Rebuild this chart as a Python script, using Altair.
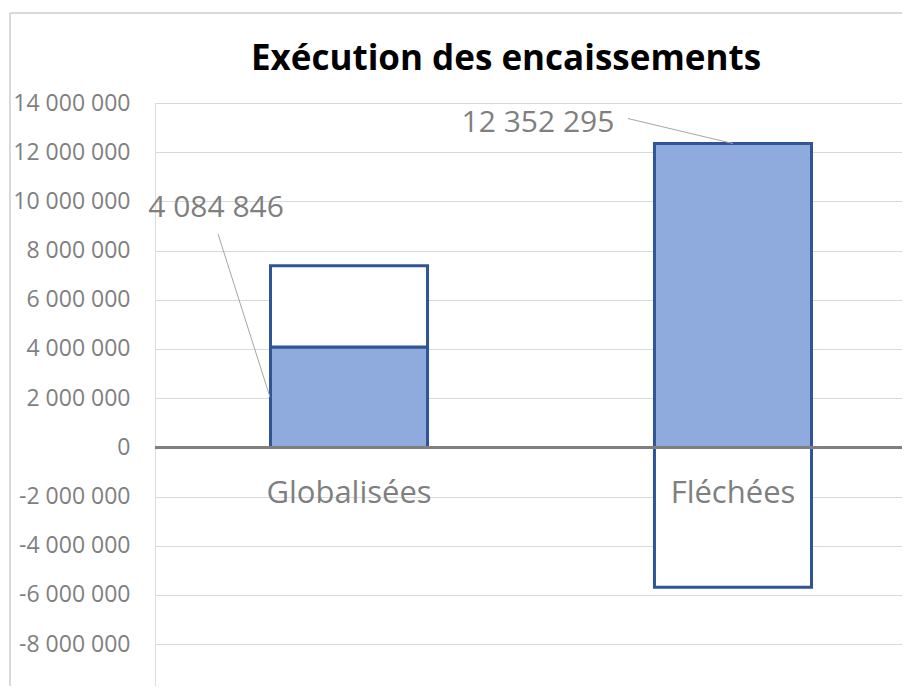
import altair as alt
import pandas as pd

categories = ["Globalisées", "Fléchées"]
encaisse = [4084846, 12352295]
ecart = [3300000, -5690000]
y_ticks = [-8000000, -6000000, -4000000, -2000000, 0, 2000000, 4000000,
           6000000, 8000000, 10000000, 12000000, 14000000]
title_text = ["Exécution des encaissements"]

rows = []
for c, e, r in zip(categories, encaisse, ecart):
    rows.append({"cat": c, "seg": "encaisse", "y0": 0, "y1": e})
    base = e if r > 0 else 0
    rows.append({"cat": c, "seg": "reste", "y0": base, "y1": base + r})
bars_df = pd.DataFrame(rows)

lab_df = pd.DataFrame({
    "cat": categories,
    "value": encaisse,
    "half": [v / 2 for v in encaisse],
    "label": [f"{v:,}".replace(",", " ") for v in encaisse],
})
zero_df = pd.DataFrame({"zero": [0]})
title_df = pd.DataFrame({"t": title_text})

FONT = "Open Sans"
GRAY = "#7f7f7f"
BLUE_FILL = "#8faadc"
BLUE_EDGE = "#2f5597"

xscale = alt.Scale(domain=categories, range=[0, 772], paddingInner=0.591, paddingOuter=0.3008)
yscale = alt.Scale(domain=[-9700000, 14000000], nice=False, zero=False)

xenc = alt.X("cat:N", scale=xscale, axis=None, sort=categories, bandPosition=0.5)
yaxis = alt.Axis(values=y_ticks, grid=True, gridColor="#d9d9d9", gridWidth=1.2,
                 domain=False, ticks=False, labelPadding=25, labelFont=FONT,
                 labelFontSize=23, labelColor=GRAY,
                 labelExpr="replace(replace(format(datum.value, ',d'), regexp(',', 'g'), ' '), '\u2212', '-')",
                 title=None)

base = alt.Chart(bars_df)

bars = base.mark_bar(stroke=BLUE_EDGE, strokeWidth=3).encode(
    x=xenc,
    y=alt.Y("y0:Q", scale=yscale, axis=yaxis),
    y2="y1:Q",
    color=alt.Color("seg:N", scale=alt.Scale(domain=["encaisse", "reste"],
                                             range=[BLUE_FILL, "#ffffff"]), legend=None),
)

zero_line = alt.Chart(zero_df).mark_rule(color=GRAY, strokeWidth=3).encode(
    y=alt.Y("zero:Q", scale=yscale),
    x=alt.value(0), x2=alt.value(760),
)

cat_labels = alt.Chart(lab_df).mark_text(font=FONT, fontSize=31, color=GRAY,
                                         baseline="middle", align="center", dy=47).encode(
    x=xenc, y=alt.Y("zero:Q", scale=yscale), text="cat:N",
).transform_calculate(zero="0")

lab_g = alt.Chart(lab_df).transform_filter(alt.datum.cat == "Globalisées")
lab_f = alt.Chart(lab_df).transform_filter(alt.datum.cat == "Fléchées")

leader_g = lab_g.mark_rule(color="#a6a6a6", strokeWidth=1, xOffset=-79, x2Offset=-131,
                           y2Offset=-113).encode(
    x=xenc, x2=alt.X2("cat:N", bandPosition=0.5),
    y=alt.Y("half:Q", scale=yscale), y2="value:Q",
)
leader_f = lab_f.mark_rule(color="#a6a6a6", strokeWidth=1, x2Offset=-105,
                           y2Offset=-25).encode(
    x=xenc, x2=alt.X2("cat:N", bandPosition=0.5),
    y=alt.Y("value:Q", scale=yscale), y2="value:Q",
)
text_g = lab_g.mark_text(font=FONT, fontSize=30, color=GRAY, align="center",
                         baseline="middle", dx=-133, dy=-139).encode(
    x=xenc, y=alt.Y("value:Q", scale=yscale), text="label:N")
text_f = lab_f.mark_text(font=FONT, fontSize=30, color=GRAY, align="center",
                         baseline="middle", dx=-195, dy=-21).encode(
    x=xenc, y=alt.Y("value:Q", scale=yscale), text="label:N")

title_mark = alt.Chart(title_df).mark_text(font="Open Sans", fontSize=35, fontWeight="bold",
                                           color="#000000", align="center",
                                           baseline="middle").encode(
    x=alt.value(351), y=alt.value(-44), text="t:N")

frame_left = alt.Chart(zero_df).mark_rule(color="#d9d9d9", strokeWidth=2).encode(
    x=alt.value(-145), y=alt.value(-90), y2=alt.value(600))
frame_top = alt.Chart(zero_df).mark_rule(color="#d9d9d9", strokeWidth=2).encode(
    x=alt.value(-145), x2=alt.value(760), y=alt.value(-90))

chart = alt.layer(
    frame_left, frame_top, bars, zero_line, cat_labels,
    leader_g, leader_f, text_g, text_f, title_mark,
).properties(
    width=747, height=583,
    autosize=alt.AutoSizeParams(type="none"),
    padding={"left": 147, "top": 95, "right": 0, "bottom": 0},
).configure_view(stroke=None).configure(background="#ffffff")

chart.save("out.html", embed_options={"renderer": "svg", "actions": False})
